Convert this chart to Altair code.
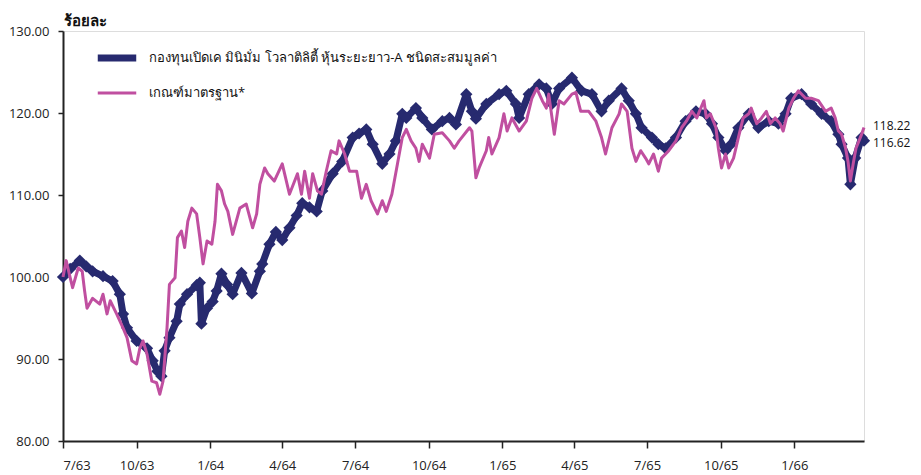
import altair as alt
import pandas as pd

SERIES = ["กองทุนเปิดเค มินิมั่ม โวลาติลิตี้ หุ้นระยะยาว-A ชนิดสะสมมูลค่า", "เกณฑ์มาตรฐาน*"]

fund_dates = ["2020-07-01","2020-07-10","2020-07-22","2020-07-30","2020-08-07","2020-08-20","2020-09-01","2020-09-10","2020-09-14","2020-09-19",
"2020-10-01","2020-10-14","2020-10-21","2020-10-27","2020-11-01","2020-11-05","2020-11-11","2020-11-20","2020-11-24","2020-12-03",
"2020-12-15","2020-12-19","2020-12-21","2020-12-28","2021-01-04","2021-01-09","2021-01-15","2021-01-22","2021-01-29","2021-02-09",
"2021-02-22","2021-03-04","2021-03-07","2021-03-16","2021-03-24","2021-04-01","2021-04-10","2021-04-19","2021-04-26","2021-05-05",
"2021-05-14","2021-05-21","2021-06-03","2021-06-15","2021-06-28","2021-07-06","2021-07-15","2021-07-23","2021-08-04","2021-08-13",
"2021-08-21","2021-08-29","2021-09-03","2021-09-15","2021-09-23","2021-10-05","2021-10-18","2021-10-27","2021-11-04","2021-11-17",
"2021-11-24","2021-11-29","2021-12-12","2021-12-28","2022-01-06","2022-01-18","2022-01-22","2022-02-03","2022-02-16","2022-02-25",
"2022-03-04","2022-03-13","2022-03-29","2022-04-10","2022-04-23","2022-05-05","2022-05-14","2022-05-30","2022-06-08","2022-06-17",
"2022-06-24","2022-07-07","2022-07-15","2022-07-24","2022-08-06","2022-08-18","2022-08-31","2022-09-12","2022-09-20","2022-09-28",
"2022-10-07","2022-10-14","2022-10-23","2022-11-05","2022-11-17","2022-11-30","2022-12-12","2022-12-21","2022-12-28","2023-01-10",
"2023-01-22","2023-02-04","2023-02-16","2023-02-25","2023-03-01","2023-03-09","2023-03-12","2023-03-18","2023-03-26","2023-03-29"]

fund_values = [100.0,101.0,102.0,101.3,100.7,100.1,99.5,97.9,95.5,93.8,
92.2,91.3,89.8,88.5,87.9,91.0,92.6,94.6,96.7,97.9,
99.0,99.3,94.3,96.2,97.0,98.3,100.4,99.1,97.9,100.5,
98.0,100.7,101.6,104.0,105.5,104.5,106.0,107.5,109.0,108.5,
108.0,110.5,112.6,114.1,117.0,117.5,118.0,116.2,113.8,115.0,
116.6,119.9,119.4,120.6,119.4,118.0,119.0,119.4,118.6,122.3,
120.2,119.3,121.1,122.3,122.7,121.1,119.4,122.3,123.5,123.0,
121.1,123.0,124.3,122.7,122.3,120.2,121.5,123.0,121.5,119.9,
118.2,117.0,116.2,115.7,117.0,119.0,120.2,119.9,118.7,117.0,
115.4,116.2,118.2,119.9,118.2,119.0,118.7,119.9,121.8,122.3,
121.1,119.9,119.0,117.4,116.2,114.5,111.3,114.5,117.0,116.62]

bench_dates = ["2020-07-01","2020-07-05","2020-07-10","2020-07-13","2020-07-20","2020-07-25","2020-07-28","2020-07-31","2020-08-07","2020-08-16",
"2020-08-20","2020-08-25","2020-08-29","2020-09-06","2020-09-14","2020-09-19","2020-09-25","2020-10-01","2020-10-05","2020-10-09",
"2020-10-14","2020-10-20","2020-10-26","2020-10-30","2020-11-03","2020-11-08","2020-11-11","2020-11-18","2020-11-21","2020-11-26",
"2020-11-30","2020-12-04","2020-12-09","2020-12-15","2020-12-19","2020-12-23","2020-12-28","2021-01-03","2021-01-07","2021-01-10",
"2021-01-15","2021-01-19","2021-01-23","2021-01-29","2021-02-07","2021-02-15","2021-02-23","2021-02-28","2021-03-04","2021-03-10",
"2021-03-14","2021-03-22","2021-04-01","2021-04-10","2021-04-20","2021-04-25","2021-04-29","2021-05-05","2021-05-09","2021-05-15",
"2021-05-20","2021-05-26","2021-06-01","2021-06-08","2021-06-11","2021-06-18","2021-06-24","2021-07-03","2021-07-09","2021-07-15",
"2021-07-21","2021-07-29","2021-08-04","2021-08-09","2021-08-16","2021-08-23","2021-08-29","2021-09-03","2021-09-09","2021-09-15",
"2021-09-19","2021-09-23","2021-10-02","2021-10-08","2021-10-18","2021-10-27","2021-11-02","2021-11-08","2021-11-21","2021-11-24",
"2021-11-29","2021-12-03","2021-12-12","2021-12-15","2021-12-19","2021-12-28","2022-01-03","2022-01-07","2022-01-13","2022-01-22",
"2022-01-31","2022-02-07","2022-02-13","2022-02-20","2022-02-25","2022-02-28","2022-03-07","2022-03-13","2022-03-19","2022-03-29",
"2022-04-03","2022-04-09","2022-04-19","2022-04-28","2022-05-05","2022-05-10","2022-05-18","2022-05-27","2022-05-30","2022-06-06",
"2022-06-12","2022-06-17","2022-06-23","2022-06-29","2022-07-03","2022-07-09","2022-07-15","2022-07-19","2022-07-28","2022-08-06",
"2022-08-13","2022-08-19","2022-08-26","2022-09-01","2022-09-06","2022-09-10","2022-09-13","2022-09-18","2022-09-25","2022-09-28",
"2022-10-02","2022-10-07","2022-10-11","2022-10-17","2022-10-23","2022-10-29","2022-11-05","2022-11-08","2022-11-15","2022-11-21",
"2022-11-27","2022-12-02","2022-12-08","2022-12-14","2022-12-18","2022-12-25","2022-12-31","2023-01-06","2023-01-15","2023-01-22",
"2023-01-31","2023-02-09","2023-02-16","2023-02-21","2023-02-25","2023-03-01","2023-03-06","2023-03-09","2023-03-12","2023-03-16",
"2023-03-19","2023-03-26","2023-03-29"]

bench_values = [100.0,102.0,99.9,98.7,101.1,100.7,98.3,96.2,97.4,96.7,
97.9,95.5,97.1,95.5,93.8,92.6,89.8,89.4,91.3,92.2,
90.6,87.3,87.1,85.7,87.3,93.8,99.1,99.9,104.8,105.6,
103.6,106.8,108.4,107.7,104.8,101.6,104.4,104.0,106.8,111.3,
110.5,108.9,108.0,105.2,108.4,108.9,106.0,107.7,111.3,113.3,
112.6,111.7,113.8,110.1,112.6,110.1,112.9,109.6,112.6,110.5,
110.1,112.9,115.4,115.0,116.6,115.0,112.9,112.9,109.6,111.3,
109.3,107.7,109.3,108.0,110.1,113.8,117.0,118.0,116.6,115.7,
114.1,116.2,114.5,117.4,117.6,116.6,115.7,116.6,118.2,117.8,
112.1,113.3,115.4,117.0,115.0,117.0,119.9,117.8,119.4,117.8,
119.0,121.8,123.0,121.5,120.6,122.3,117.4,121.5,121.1,122.3,
122.5,120.2,120.2,119.0,117.0,115.0,118.2,119.9,121.1,120.2,
115.7,114.1,115.4,114.5,113.8,115.0,112.9,114.5,115.4,116.6,
118.2,119.0,120.2,119.4,120.6,121.5,119.4,119.9,118.2,115.7,
113.3,115.0,113.3,114.5,117.0,119.4,119.9,120.6,118.7,119.4,
120.2,118.7,119.4,118.7,117.8,120.6,121.8,122.7,121.8,121.8,
121.5,120.2,120.6,119.4,117.8,117.4,115.7,114.1,111.7,114.1,
115.7,117.4,118.22]

y_ticks = [80, 90, 100, 110, 120, 130]
x_tick_dates = [(2020, 7), (2020, 10), (2021, 1), (2021, 4), (2021, 7), (2021, 10),
                (2022, 1), (2022, 4), (2022, 7), (2022, 10), (2023, 1)]

NAVY = "#272a6f"
PINK = "#c04fa0"
FONT = "Open Sans"

fund = pd.DataFrame({"date": fund_dates, "value": fund_values, "series": SERIES[0]})
bench = pd.DataFrame({"date": bench_dates, "value": bench_values, "series": SERIES[1]})
fund_end = pd.DataFrame({"date": [fund_dates[-1]], "value": [fund_values[-1]],
                         "label": [f"{fund_values[-1]:.2f}"]})
bench_end = pd.DataFrame({"date": [bench_dates[-1]], "value": [bench_values[-1]],
                          "label": [f"{bench_values[-1]:.2f}"]})

x_enc = alt.X(
    "date:T",
    scale=alt.Scale(domain=[alt.DateTime(year=2020, month=7, date=1),
                            alt.DateTime(year=2023, month=3, date=29)], nice=False),
    axis=alt.Axis(
        values=[alt.DateTime(year=y, month=m, date=1) for y, m in x_tick_dates],
        labelExpr="(month(datum.value)+1) + '/' + ((year(datum.value)+543) % 100)",
        title=None, grid=False, tickSize=7, labelPadding=11,
        domainColor="#222", tickColor="#222", domainWidth=2, tickWidth=1.5,
        labelFontSize=13, labelColor="#222", labelFont=FONT,
    ),
)
y_enc = alt.Y(
    "value:Q",
    scale=alt.Scale(domain=[80, 130], nice=False, zero=False),
    axis=alt.Axis(
        values=y_ticks, format=".2f", title="ร้อยละ", titleAngle=0,
        titleAlign="left", titleX=0, titleY=-6, titleBaseline="alphabetic",
        titleFontWeight="bold", titleFontSize=15, titleColor="#111", titleFont=FONT,
        grid=False, tickSize=5, labelPadding=9,
        domainColor="#222", tickColor="#222", domainWidth=2, tickWidth=1.5,
        labelFontSize=13, labelColor="#222", labelFont=FONT,
    ),
)

legend = alt.Legend(
    title=None, orient="none", legendX=31, legendY=4, symbolType="stroke",
    symbolSize=1480, labelFontSize=13, labelFont=FONT, labelColor="#111",
    labelOffset=9, rowPadding=0, labelLimit=600,
)
color_enc = alt.Color("series:N", scale=alt.Scale(domain=SERIES, range=[NAVY, PINK]), legend=legend)
sw_enc = alt.StrokeWidth("series:N", scale=alt.Scale(domain=SERIES, range=[7, 3]), legend=legend)

fund_line = alt.Chart(fund).mark_line(strokeJoin="round", strokeCap="round").encode(
    x=x_enc, y=y_enc, color=color_enc, strokeWidth=sw_enc)
fund_pts = alt.Chart(fund).mark_point(shape="diamond", filled=True, size=150, opacity=1, color=NAVY).encode(
    x="date:T", y="value:Q")
bench_line = alt.Chart(bench).mark_line(strokeJoin="round").encode(
    x="date:T", y="value:Q", color=color_enc, strokeWidth=sw_enc)
fund_text = alt.Chart(fund_end).mark_text(align="left", dx=9, dy=2, fontSize=12, font=FONT, color="#111").encode(
    x="date:T", y="value:Q", text="label:N")
bench_text = alt.Chart(bench_end).mark_text(align="left", dx=9, dy=-2, fontSize=12, font=FONT, color="#111").encode(
    x="date:T", y="value:Q", text="label:N")

chart = alt.layer(fund_line, fund_pts, bench_line, fund_text, bench_text).properties(
    width=801, height=410,
    padding={"left": 0, "top": 5, "right": 0, "bottom": 0},
).configure_view(stroke="#999", strokeWidth=1).configure(background="white")

chart.save("out.html", embed_options={"renderer": "svg", "actions": False})
